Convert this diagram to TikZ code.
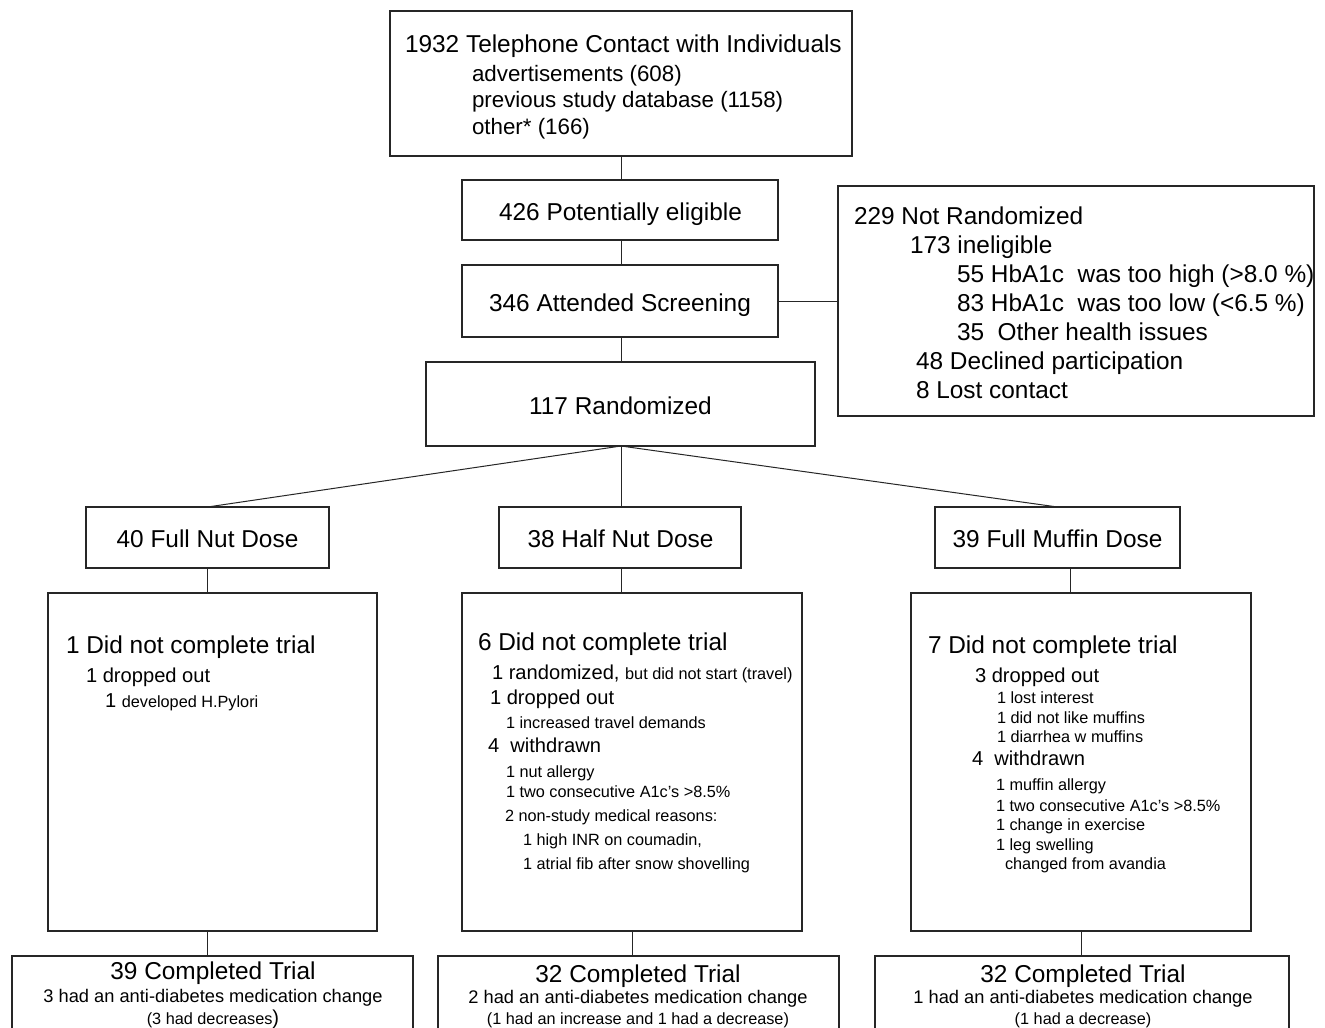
\documentclass[tikz,border=0pt]{standalone}
\usepackage{fontspec}
\setmainfont{Liberation Sans}
\newcommand\fA{\fontsize{18.3pt}{21pt}\selectfont}
\newcommand\fB{\fontsize{16.75pt}{19pt}\selectfont}
\newcommand\fC{\fontsize{15.1pt}{18pt}\selectfont}
\newcommand\fD{\fontsize{13.7pt}{16pt}\selectfont}
\newcommand\fE{\fontsize{12.2pt}{14pt}\selectfont}
\begin{document}
\begin{tikzpicture}[x=0.75pt,y=-0.75pt,
  box/.style={draw=black!85,line width=0.9pt,rectangle,inner sep=0pt,outer sep=0pt},
  lbl/.style={inner sep=0pt,outer sep=0pt,anchor=base west},
  clbl/.style={inner sep=0pt,outer sep=0pt,anchor=base},
  conn/.style={draw=black!85,line width=0.75pt}]
\useasboundingbox[fill=white] (0,0) rectangle (1325,1028);
\newcommand\bx[5]{\node[box,minimum width=#4*0.75pt,minimum height=#5*0.75pt] (#1) at (#2,#3) {};}
% boxes: name, center x, center y, width, height
\bx{top}{621}{83.5}{462}{145}
\bx{elig}{620}{210}{316}{60}
\bx{att}{620}{301}{316}{72}
\bx{rand}{620.5}{404}{389}{84}
\bx{notr}{1076}{301}{476}{230}
\bx{fnut}{207.5}{537.5}{243}{61}
\bx{hnut}{620}{537.5}{242}{61}
\bx{fmuf}{1057.5}{537.5}{245}{61}
\bx{dncL}{212.5}{762}{329}{338}
\bx{dncM}{632}{762}{340}{338}
\bx{dncR}{1081}{762}{340}{338}
\bx{compL}{212.5}{1006}{401}{100}
\bx{compM}{638.5}{1006}{401}{100}
\bx{compR}{1082}{1006}{414}{100}
% connectors
\coordinate (mx) at (1070,0);
\coordinate (cx) at (621,0);
\draw[conn] (top.south -| cx) -- (elig.north -| cx);
\draw[conn] (elig.south -| cx) -- (att.north -| cx);
\draw[conn] (att.south -| cx) -- (rand.north -| cx);
\draw[conn] (att.east) -- (notr.west |- att.east);
\draw[conn] (rand.south -| cx) -- (fnut.north);
\draw[conn] (rand.south -| cx) -- (hnut.north -| cx);
\draw[conn] (rand.south -| cx) -- (fmuf.north);
\draw[conn] (fnut.south) -- (fnut.south |- dncL.north);
\draw[conn] (hnut.south -| cx) -- (dncM.north -| cx);
\draw[conn] (fmuf.south -| mx) -- (dncR.north -| mx);
\draw[conn] (fnut.south |- dncL.south) -- (fnut.south |- compL.north);
\draw[conn] (dncM.south) -- (dncM.south |- compM.north);
\draw[conn] (dncR.south) -- (dncR.south |- compR.north);
% top box text
\node[lbl] (t1) at (405,52) {\fA 1932 Telephone Contact with Individuals};
\node[lbl] (t2) at (472,81) {\fB advertisements (608)};
\node[lbl] (t3) at (472,107) {\fB previous study database (1158)};
\node[lbl] (t4) at (472,134) {\fB other* (166)};
\node[clbl] (e1) at (620.5,220) {\fA 426 Potentially eligible};
\node[clbl] (a1) at (620,311) {\fA 346 Attended Screening};
\node[clbl] (r1) at (620.5,414) {\fA 117 Randomized};
% not randomized
\node[lbl] (n1) at (854,224) {\fA 229 Not Randomized};
\node[lbl] (n2) at (910,253) {\fA 173 ineligible};
\node[lbl] (n3) at (957,282) {\fA 55 HbA1c\ \ was too high (>8.0 \%)};
\node[lbl] (n4) at (957,311) {\fA 83 HbA1c\ \ was too low (<6.5 \%)};
\node[lbl] (n5) at (957,340) {\fA 35\ \ Other health issues};
\node[lbl] (n6) at (916,369) {\fA 48 Declined participation};
\node[lbl] (n7) at (916,398) {\fA 8 Lost contact};
% arms
\node[clbl] (g1) at (207.5,547) {\fA 40 Full Nut Dose};
\node[clbl] (g2) at (620.5,547) {\fA 38 Half Nut Dose};
\node[clbl] (g3) at (1057.5,547) {\fA 39 Full Muffin Dose};
% left dnc
\node[lbl] (l1) at (66,653) {\fA 1 Did not complete trial};
\node[lbl] (l2) at (86,682) {\fC 1 dropped out};
\node[lbl] (l3) at (105,707) {\fC 1 \fE developed H.Pylori};
% middle dnc
\node[lbl] (m1) at (478,650) {\fA 6 Did not complete trial};
\node[lbl] (m2) at (492,679) {\fC 1 randomized, \fE but did not start (travel)};
\node[lbl] (m3) at (490,704) {\fC 1 dropped out};
\node[lbl] (m4) at (506,728) {\fE 1 increased travel demands};
\node[lbl] (m5) at (488,752) {\fC 4\ \ withdrawn};
\node[lbl] (m6) at (506,777) {\fE 1 nut allergy};
\node[lbl] (m7) at (506,797) {\fE 1 two consecutive A1c's >8.5\%};
\node[lbl] (m8) at (505,821) {\fE 2 non-study medical reasons:};
\node[lbl] (m9) at (523,845) {\fE 1 high INR on coumadin,};
\node[lbl] (m10) at (523,869) {\fE 1 atrial fib after snow shovelling};
% right dnc
\node[lbl] (q1) at (928,653) {\fA 7 Did not complete trial};
\node[lbl] (q2) at (975,682) {\fC 3 dropped out};
\node[lbl] (q3) at (997,703) {\fE 1 lost interest};
\node[lbl] (q4) at (997,723) {\fE 1 did not like muffins};
\node[lbl] (q5) at (997,742) {\fE 1 diarrhea w muffins};
\node[lbl] (q6) at (972,765) {\fC 4\ \ withdrawn};
\node[lbl] (q7) at (996,790) {\fE 1 muffin allergy};
\node[lbl] (q8) at (996,811) {\fE 1 two consecutive A1c's >8.5\%};
\node[lbl] (q9) at (996,830) {\fE 1 change in exercise};
\node[lbl] (q10) at (996,850) {\fE 1 leg swelling};
\node[lbl] (q11) at (1005,869) {\fE changed from avandia};
% completed
\node[clbl] (c1) at (213,979) {\fA 39 Completed Trial};
\node[clbl] (c2) at (213,1002) {\fD 3 had an anti-diabetes medication change};
\node[clbl] (c3) at (213,1024) {\fE (3 had decreases\fC)};
\node[clbl] (c4) at (638,982) {\fA 32 Completed Trial};
\node[clbl] (c5) at (638,1003) {\fD 2 had an anti-diabetes medication change};
\node[clbl] (c6) at (638,1024) {\fE (1 had an increase and 1 had a decrease)};
\node[clbl] (c7) at (1083,982) {\fA 32 Completed Trial};
\node[clbl] (c8) at (1083,1003) {\fD 1 had an anti-diabetes medication change};
\node[clbl] (c9) at (1083,1024) {\fE (1 had a decrease)};
\end{tikzpicture}
\end{document}
